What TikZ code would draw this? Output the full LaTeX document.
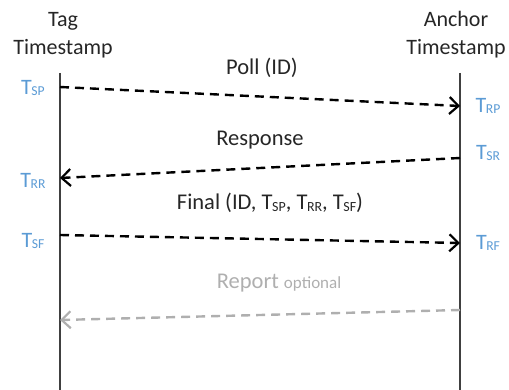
\documentclass[tikz,border=0pt]{standalone}
\usepackage{fontspec}
\setmainfont{Carlito}
\usetikzlibrary{arrows.meta}
\definecolor{tblue}{RGB}{91,155,213}
\definecolor{rgray}{RGB}{175,175,175}
\newcommand{\ts}[1]{T\kern-0.02em\raisebox{-0.15ex}{\fontsize{0.62em}{1em}\selectfont #1}}
\begin{document}
\begin{tikzpicture}[x=1pt,y=-1pt,
  lbl/.style={font=\fontsize{22.5}{26}\selectfont, text=black!85, inner sep=0pt},
  tlbl/.style={font=\fontsize{22}{24}\selectfont, text=tblue, inner sep=0pt},
  life/.style={line width=1.5pt, draw=black!75},
  msg/.style={line width=2.4pt, dash pattern=on 9pt off 6pt, -{Straight Barb[length=9pt,width=17pt,line width=2.2pt]}},
  ]
\useasboundingbox (0,0) rectangle (509,390);
% lifelines
\coordinate (ltop) at (60,73);
\coordinate (lbot) at (60,390);
\coordinate (rtop) at (460,73);
\coordinate (rbot) at (460,390);
\draw[life] (ltop) -- (lbot);
\draw[life] (rtop) -- (rbot);
% headers
\node[lbl, align=center, font=\fontsize{22}{26}\selectfont] (tag) at (63,35) {Tag\\[2pt]Timestamp};
\node[lbl, align=center, font=\fontsize{22}{26}\selectfont] (anc) at (456,35) {Anchor\\[2pt]Timestamp};
% message endpoints
\coordinate (p1) at (60,87);   \coordinate (p2) at (460,106);
\coordinate (r1) at (460,158); \coordinate (r2) at (60,178);
\coordinate (f1) at (60,235);  \coordinate (f2) at (460,243);
\coordinate (o1) at (460,310); \coordinate (o2) at (60,320);
\draw[msg] (p1) -- (p2);
\draw[msg] (r1) -- (r2);
\draw[msg] (f1) -- (f2);
\draw[msg, draw=rgray] (o1) -- (o2);
% message labels
\node[lbl] (poll) at (262,68) {Poll (ID)};
\node[lbl] (resp) at (260,140) {Response};
\node[lbl] (fin) at (270,203) {Final (ID, \ts{SP}, \ts{RR}, \ts{SF})};
\node[lbl, text=rgray] (rep) at (279,283) {Report {\fontsize{17}{20}\selectfont optional}};
% timestamps
\node[tlbl] (tsp) at (33,88) {\ts{SP}};
\node[tlbl] (trr) at (33,181) {\ts{RR}};
\node[tlbl] (tsf) at (33,241) {\ts{SF}};
\node[tlbl] (trp) at (488,106) {\ts{RP}};
\node[tlbl] (tsr) at (488,153) {\ts{SR}};
\node[tlbl] (trf) at (488,243) {\ts{RF}};
\end{tikzpicture}
\end{document}
